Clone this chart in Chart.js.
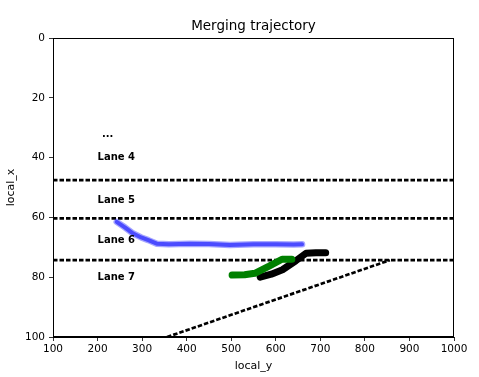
<!DOCTYPE html>
<html>
<head>
<meta charset="utf-8">
<script src="https://cdn.jsdelivr.net/npm/chart.js@4/dist/chart.umd.min.js"></script>
<style>
html,body{margin:0;padding:0;background:#fff;}
#wrap{width:479px;height:377px;}
</style>
</head>
<body>
<div id="wrap"><canvas id="c" width="479" height="377"></canvas></div>
<script>
// ---- data ----
const xTicks = [100,200,300,400,500,600,700,800,900,1000];
const yTicks = [0,20,40,60,80,100];

const laneLineY = [47.5, 60.3, 74.3];
const laneLineX = [100, 1000];

const rampX = [356, 856];
const rampY = [100, 74.3];

const blueX = [243, 262, 280, 298, 314, 333, 360, 407, 450, 497, 550, 600, 640, 659];
const blueY = [61.5, 63.4, 65.4, 66.7, 67.6, 68.8, 69.0, 68.8, 68.9, 69.2, 69.0, 69.0, 69.1, 69.0];

const greenX = [502, 530, 553, 585, 614, 636];
const greenY = [79.3, 79.2, 78.7, 76.3, 74.0, 74.0];

const blackX = [565, 590, 615, 645, 668, 690, 712];
const blackY = [80.0, 79.0, 77.5, 74.5, 72.0, 71.8, 71.8];

const labelText = ['...', 'Lane 4', 'Lane 5', 'Lane 6', 'Lane 7'];
const labelX = [210, 200, 200, 200, 200];
const labelY = [33.0, 40.8, 55.1, 68.5, 81.0];

const titleText = 'Merging trajectory';
const xTitle = 'local_y';
const yTitle = 'local_x';

// ---- build datasets ----
const pts = (xs, ys) => xs.map((x, i) => ({x: x, y: ys[i]}));
const FONT = "'DejaVu Sans', sans-serif";

const datasets = [];
laneLineY.forEach(y => {
  datasets.push({
    data: pts(laneLineX, [y, y]),
    borderColor: '#000', borderWidth: 2.7, borderDash: [4.5, 2],
    pointRadius: 0, order: 10, borderCapStyle: 'butt'
  });
});
datasets.push({
  data: pts(rampX, rampY),
  borderColor: '#000', borderWidth: 2.7, borderDash: [4.5, 2],
  pointRadius: 0, order: 10, borderCapStyle: 'butt'
});
datasets.push({
  data: pts(blueX, blueY),
  borderColor: 'rgba(0,0,255,0.35)', borderWidth: 6.5,
  borderCapStyle: 'round', borderJoinStyle: 'round',
  pointRadius: 0, order: 6
});
datasets.push({
  data: pts(blueX, blueY),
  borderColor: 'rgba(0,0,255,0.55)', borderWidth: 4,
  borderCapStyle: 'round', borderJoinStyle: 'round',
  pointRadius: 0, order: 5
});
datasets.push({
  data: pts(blackX, blackY),
  borderColor: '#000', borderWidth: 7,
  borderCapStyle: 'round', borderJoinStyle: 'round',
  pointRadius: 0, order: 3
});
datasets.push({
  data: pts(greenX, greenY),
  borderColor: '#008000', borderWidth: 7,
  borderCapStyle: 'round', borderJoinStyle: 'round',
  pointRadius: 0, order: 1
});

const decor = {
  id: 'decor',
  afterDatasetsDraw(chart) {
    const {ctx, chartArea: a, scales: {x, y}} = chart;
    ctx.save();
    ctx.fillStyle = '#000';
    ctx.font = "bold 10px " + FONT;
    ctx.textAlign = 'left';
    ctx.textBaseline = 'alphabetic';
    labelText.forEach((t, i) => {
      ctx.fillText(t, x.getPixelForValue(labelX[i]), y.getPixelForValue(labelY[i]));
    });
    ctx.restore();
  },
  afterDraw(chart) {
    const {ctx, chartArea: a} = chart;
    ctx.save();
    ctx.strokeStyle = '#000';
    ctx.lineWidth = 1;
    ctx.strokeRect(Math.round(a.left) + 0.5, Math.round(a.top) + 0.5,
                   Math.round(a.right - a.left) - 1, Math.round(a.bottom - a.top) - 1);
    ctx.fillStyle = '#000';
    ctx.font = "13.5px " + FONT;
    ctx.textAlign = 'center';
    ctx.textBaseline = 'alphabetic';
    ctx.fillText(titleText, (a.left + a.right) / 2, 30);
    ctx.restore();
  }
};

new Chart(document.getElementById('c'), {
  type: 'line',
  data: {datasets: datasets},
  options: {
    responsive: false,
    animation: false,
    events: [],
    layout: {padding: {top: 38, right: 25, left: 0, bottom: 0}},
    plugins: {legend: {display: false}, tooltip: {enabled: false}, title: {display: false}},
    scales: {
      x: {
        type: 'linear', min: 100, max: 1000,
        afterFit: s => { s.height = 40; },
        afterBuildTicks: s => { s.ticks = xTicks.map(v => ({value: v})); },
        ticks: {color: '#000', font: {family: FONT, size: 10.5}, padding: 2, maxRotation: 0, autoSkip: false,
                callback: v => String(v)},
        grid: {display: true, drawOnChartArea: false, drawTicks: true, tickLength: 4, color: '#000', lineWidth: 0.8},
        border: {display: true, color: '#000', width: 1},
        title: {display: true, text: xTitle, color: '#000', font: {family: FONT, size: 11}, padding: {top: 0, bottom: 4}}
      },
      y: {
        type: 'linear', min: 0, max: 100, reverse: true,
        afterFit: s => { s.width = 53; },
        afterBuildTicks: s => { s.ticks = yTicks.map(v => ({value: v})); },
        ticks: {color: '#000', font: {family: FONT, size: 10.5}, padding: 4, autoSkip: false,
                callback: v => String(v)},
        grid: {display: true, drawOnChartArea: false, drawTicks: true, tickLength: 4, color: '#000', lineWidth: 0.8},
        border: {display: true, color: '#000', width: 1},
        title: {display: true, text: yTitle, color: '#000', font: {family: FONT, size: 11}, padding: {top: 5, bottom: 0}}
      }
    }
  },
  plugins: [decor]
});
</script>
</body>
</html>
